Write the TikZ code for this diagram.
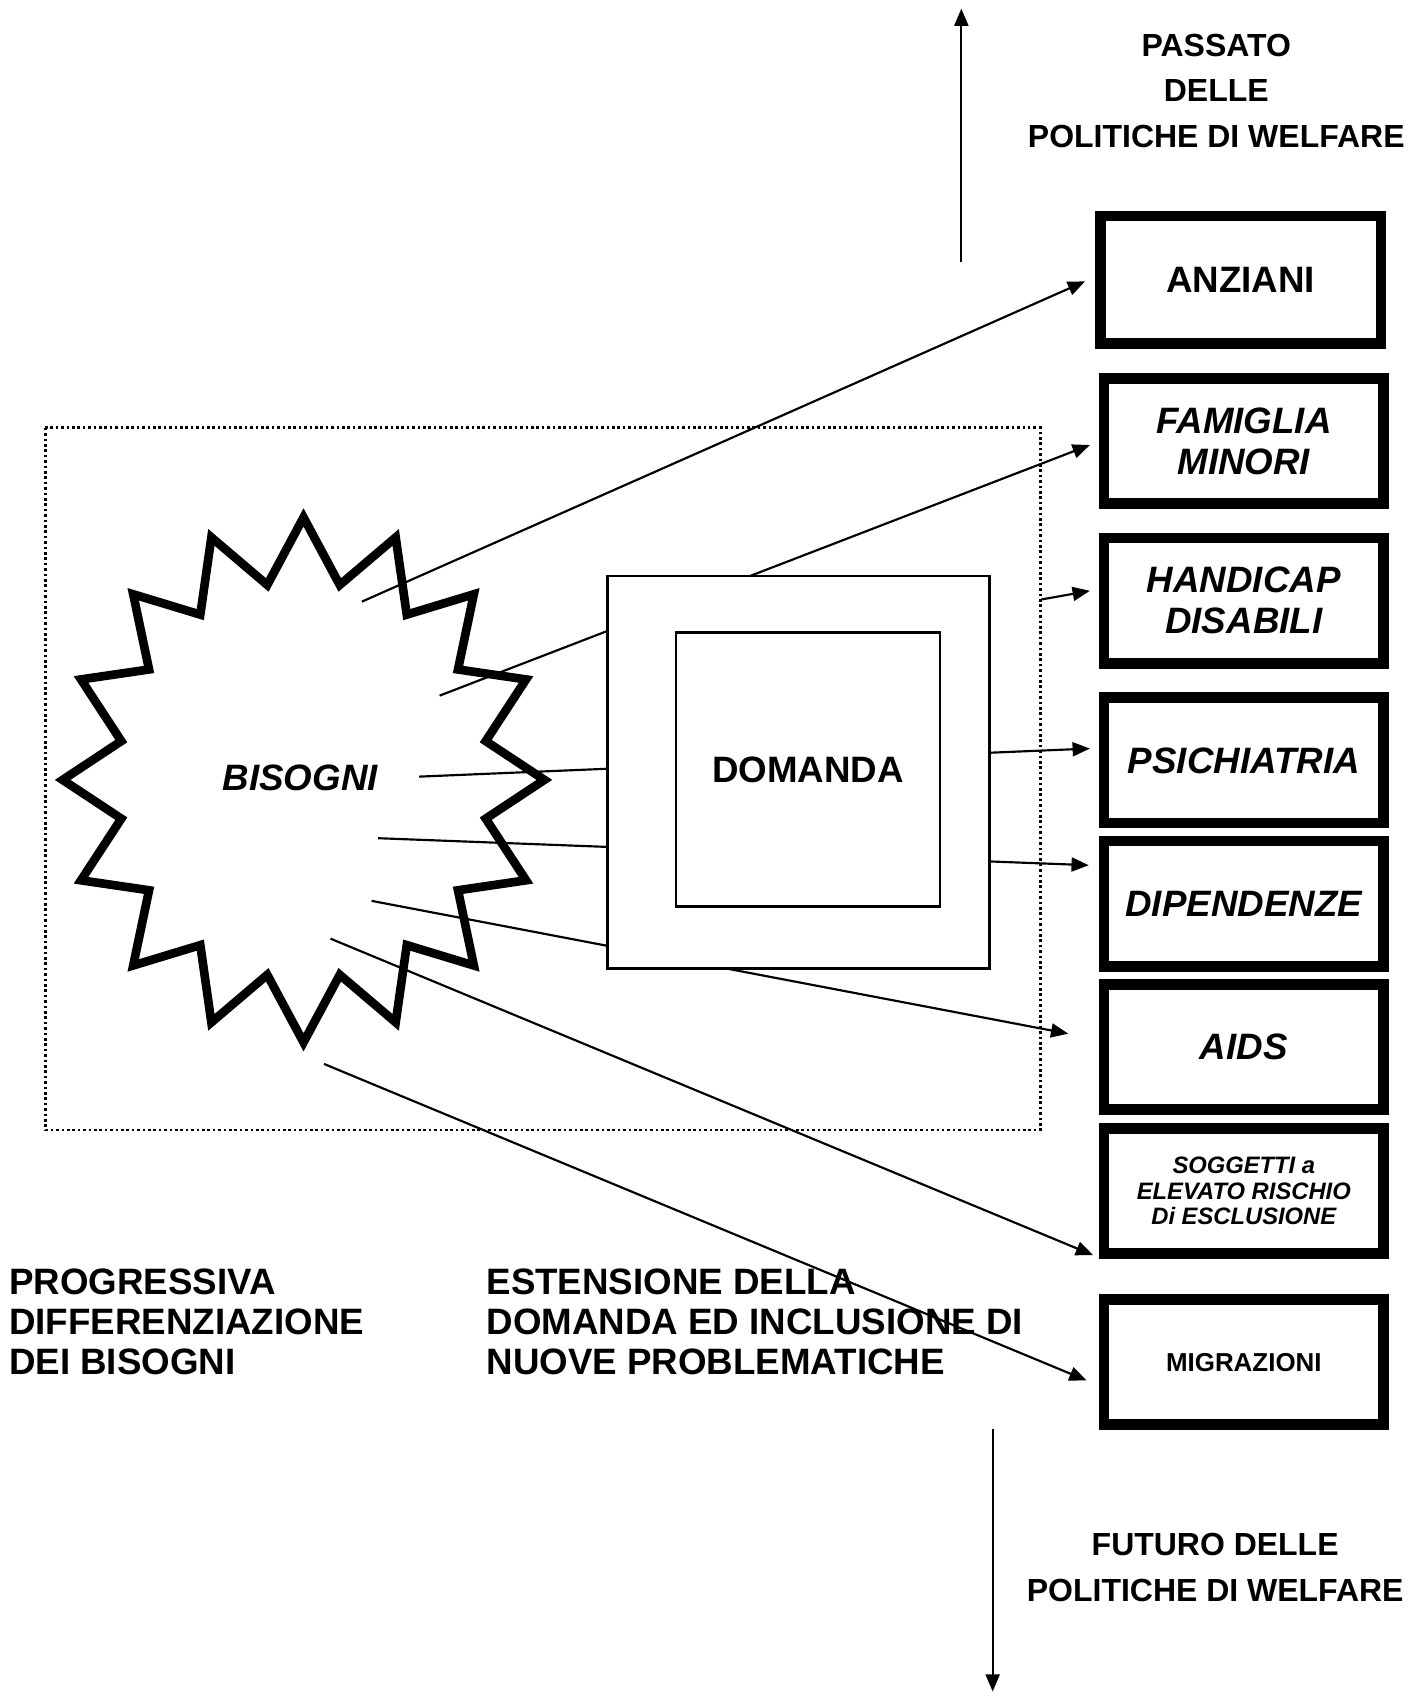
\documentclass[tikz,border=0pt]{standalone}
\usepackage{fontspec}
\setmainfont{Liberation Sans}
\usetikzlibrary{arrows.meta}

\begin{document}
\begin{tikzpicture}[x=0.5pt, y=-0.5pt,
    welfarebox/.style={draw, line width=5pt, minimum width=129.5pt, minimum height=58pt,
        inner sep=0pt, align=center, font=\bfseries\itshape\fontsize{17}{19}\selectfont},
    demandbox/.style={draw, fill=white, line width=1.3pt, inner sep=0pt},
    flow/.style={line width=1pt, -{Triangle[length=8pt, width=6.5pt]}},
    title/.style={inner sep=0pt, align=center, font=\bfseries\fontsize{14.8}{21}\selectfont},
    caption/.style={anchor=west, inner sep=0pt, align=left, font=\bfseries\fontsize{17}{18.5}\selectfont}]

    % Page size
    \useasboundingbox (0,0) rectangle (1320,1572);

    % Dotted area round needs and demand
    \draw[line width=1.2pt, dash pattern=on 1.2pt off 1.3pt] (42,396) rectangle (963,1046);

    % Star of the needs
    \draw[line width=4pt, miter limit=10] (504,722)
        \foreach \k in {1,...,15} {
            -- ({281+172*cos(\k*22.5-11.25)},{722-184*sin(\k*22.5-11.25)})
            -- ({281+223*cos(\k*22.5)},{722-243*sin(\k*22.5)})
        }
        -- ({281+172*cos(348.75)},{722-184*sin(348.75)}) -- cycle;
    \node[font=\bfseries\itshape\fontsize{17}{19}\selectfont] (bisogni) at (278,720) {BISOGNI};

    % Target groups
    \node[welfarebox, minimum width=130pt, minimum height=59pt, font=\bfseries\fontsize{17}{19}\selectfont] (anziani) at (1148.5,259) {ANZIANI};
    \node[welfarebox] (famiglia) at (1151.5,408.5) {FAMIGLIA\\MINORI};
    \node[welfarebox] (handicap) at (1151.5,556) {HANDICAP\\DISABILI};
    \node[welfarebox] (psichiatria) at (1151.5,704) {PSICHIATRIA};
    \node[welfarebox] (dipendenze) at (1151.5,836.5) {DIPENDENZE};
    \node[welfarebox] (aids) at (1151.5,969.5) {AIDS};
    \node[welfarebox, font=\bfseries\itshape\fontsize{11}{12}\selectfont] (soggetti) at (1151.5,1102.5) {SOGGETTI a\\ELEVATO RISCHIO\\Di ESCLUSIONE};
    \node[welfarebox, font=\bfseries\fontsize{12}{14}\selectfont] (migrazioni) at (1151.5,1261) {MIGRAZIONI};

    % Time axis
    \coordinate (pastfoot) at (890,243);
    \coordinate (pasthead) at (890,8);
    \coordinate (futurefoot) at (919,1323);
    \coordinate (futurehead) at (919,1566);
    \draw[flow] (pastfoot) -- (pasthead);
    \draw[flow] (futurefoot) -- (futurehead);
    \node[title] (passato) at (1126,84) {PASSATO\\DELLE\\POLITICHE DI WELFARE};
    \node[title] (futuro) at (1125,1451) {FUTURO DELLE\\POLITICHE DI WELFARE};

    % Captions
    \node[caption] (progressiva) at (8,1224) {PROGRESSIVA\\DIFFERENZIAZIONE\\DEI BISOGNI};
    \node[caption] (estensione) at (450,1224) {ESTENSIONE DELLA\\DOMANDA ED INCLUSIONE DI\\NUOVE PROBLEMATICHE};

    % Connectors from the needs
    \coordinate (b1) at (335,557);
    \coordinate (b2) at (407,644);
    \coordinate (b3) at (388,719);
    \coordinate (b4) at (350,776);
    \coordinate (b5) at (344,834);
    \coordinate (b6) at (306,869);
    \coordinate (b7) at (300,985);
    \coordinate (hstart) at (964,555);
    \draw[flow] (b1) -- ([shift={(-9,1.5)}]anziani.west);
    \draw[flow] (b2) -- ([shift={(-8,3.5)}]famiglia.west);
    \draw[flow] (hstart) -- ([shift={(-8,-9)}]handicap.west);
    \draw[flow] (b3) -- ([shift={(-8,-11)}]psichiatria.west);
    \draw[flow] (b4) -- ([shift={(-9,-35.5)}]dipendenze.west);
    \draw[flow] (b5) -- ([shift={(-28,-12.5)}]aids.west);
    \draw[flow] (b6) -- ([shift={(-5,59.5)}]soggetti.west);
    \draw[flow] (b7) -- ([shift={(-11,17)}]migrazioni.west);

    % Demand boxes
    \node[demandbox, minimum width=176.75pt, minimum height=181.75pt] (domandaout) at (739,715) {};
    \node[demandbox, minimum width=122.25pt, minimum height=126.75pt, font=\bfseries\fontsize{17}{19}\selectfont] (domanda) at (748,712.5) {DOMANDA};

\end{tikzpicture}
\end{document}
